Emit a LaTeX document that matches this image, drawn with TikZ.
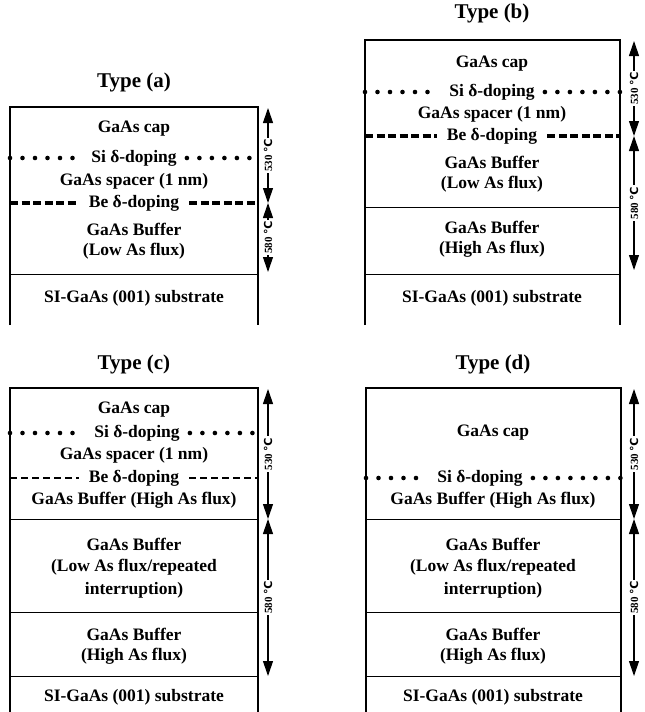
\documentclass[tikz,border=0pt]{standalone}
\usepackage{fontspec}
\setmainfont{Liberation Serif}
\newfontfamily\symf{DejaVu Sans}
\usetikzlibrary{arrows.meta}
\newcommand{\degC}{{\symf ℃}}
\begin{document}
\begin{tikzpicture}[x=1pt,y=-1pt,
  layer/.style={font=\fontsize{17.5}{20}\selectfont\bfseries, inner sep=1pt},
  dop/.style={layer, inner xsep=10pt},
  ttl/.style={font=\fontsize{21}{24}\selectfont\bfseries},
  boxline/.style={line width=1.1pt},
  divline/.style={line width=0.9pt},
  dotline/.style={line width=4.6pt, line cap=round, dash pattern=on 0pt off 12.5pt},
  dashline/.style={line width=3.2pt, dash pattern=on 8pt off 3.5pt},
  thindash/.style={line width=2pt, dash pattern=on 7pt off 4pt},
  dimarrow/.style={line width=1.1pt, {Triangle[width=10pt,length=15pt]}-{Triangle[width=10pt,length=15pt]}},
  temp/.style={font=\fontsize{11}{13}\selectfont\bfseries, rotate=90, fill=white, inner sep=1.5pt}
]
\useasboundingbox (0,0) rectangle (645,712);

% ---------- Type (a) ----------
\coordinate (aTL) at (10,107);  \coordinate (aTR) at (258,107);
\coordinate (aBL) at (10,325);  \coordinate (aBR) at (258,325);
\node[ttl] (ta) at (134,82) {Type (a)};
\draw[boxline] (aBL) -- (aTL) -- (aTR) -- (aBR);
\node[layer] (acap) at (134,129) {GaAs cap};
\node[dop] (asi) at (134,158) {Si δ-doping};
\node[layer] (aspc) at (134,181) {GaAs spacer (1 nm)};
\node[dop] (abe) at (134,203) {Be δ-doping};
\node[layer] (abuf) at (134,229) {GaAs Buffer};
\node[layer] (alow) at (134,251) {(Low As flux)};
\node[layer] (asub) at (134,298) {SI-GaAs (001) substrate};
\coordinate (asiL) at (10,158); \coordinate (asiR) at (258,158);
\coordinate (abeL) at (10,203); \coordinate (abeR) at (258,203);
\draw[dotline] (asiL) -- (asi.west);
\draw[dotline] (asi.east) -- (asiR);
\draw[dashline] (abeL) -- (abe.west);
\draw[dashline] (abe.east) -- (abeR);
\coordinate (ad1L) at (10,274); \coordinate (ad1R) at (258,274);
\draw[divline] (ad1L) -- (ad1R);
\coordinate (aAT) at (268,108); \coordinate (aAM) at (268,203); \coordinate (aAB) at (268,272);
\draw[dimarrow] (aAT) -- node[temp] {530 \degC} (aAM);
\draw[dimarrow] (aAM) -- node[temp] {580 \degC} (aAB);

% ---------- Type (b) ----------
\coordinate (bTL) at (365,40);  \coordinate (bTR) at (620,40);
\coordinate (bBL) at (365,325); \coordinate (bBR) at (620,325);
\node[ttl] (tb) at (492,13) {Type (b)};
\draw[boxline] (bBL) -- (bTL) -- (bTR) -- (bBR);
\node[layer] (bcap) at (492,64) {GaAs cap};
\node[dop] (bsi) at (492,92) {Si δ-doping};
\node[layer] (bspc) at (492,114) {GaAs spacer (1 nm)};
\node[dop] (bbe) at (492,136) {Be δ-doping};
\node[layer] (bbuf) at (492,162) {GaAs Buffer};
\node[layer] (blow) at (492,184) {(Low As flux)};
\node[layer] (bbuf2) at (492,227) {GaAs Buffer};
\node[layer] (bhigh) at (492,249) {(High As flux)};
\node[layer] (bsub) at (492,298) {SI-GaAs (001) substrate};
\coordinate (bsiL) at (365,92); \coordinate (bsiR) at (620,92);
\coordinate (bbeL) at (365,136); \coordinate (bbeR) at (620,136);
\draw[dotline] (bsiL) -- (bsi.west);
\draw[dotline] (bsi.east) -- (bsiR);
\draw[dashline] (bbeL) -- (bbe.west);
\draw[dashline] (bbe.east) -- (bbeR);
\coordinate (bd1L) at (365,207); \coordinate (bd1R) at (620,207);
\coordinate (bd2L) at (365,274); \coordinate (bd2R) at (620,274);
\draw[divline] (bd1L) -- (bd1R);
\draw[divline] (bd2L) -- (bd2R);
\coordinate (bAT) at (634,41); \coordinate (bAM) at (634,136); \coordinate (bAB) at (634,270);
\draw[dimarrow] (bAT) -- node[temp] {530 \degC} (bAM);
\draw[dimarrow] (bAM) -- node[temp] {580 \degC} (bAB);

% ---------- Type (c) ----------
\coordinate (cTL) at (10,388);  \coordinate (cTR) at (258,388);
\coordinate (cBL) at (10,712);  \coordinate (cBR) at (258,712);
\node[ttl] (tc) at (134,364) {Type (c)};
\draw[boxline] (cBL) -- (cTL) -- (cTR) -- (cBR);
\node[layer] (ccap) at (134,410) {GaAs cap};
\node[dop] (csi) at (137,433) {Si δ-doping};
\node[layer] (cspc) at (134,455) {GaAs spacer (1 nm)};
\node[dop] (cbe) at (134,478) {Be δ-doping};
\node[layer] (cbh) at (134,500) {GaAs Buffer (High As flux)};
\node[layer] (cbuf) at (134,544) {GaAs Buffer};
\node[layer] (clow) at (134,567) {(Low As flux/repeated};
\node[layer] (cint) at (134,590) {interruption)};
\node[layer] (cbuf2) at (134,634) {GaAs Buffer};
\node[layer] (chigh) at (134,656) {(High As flux)};
\node[layer] (csub) at (134,697) {SI-GaAs (001) substrate};
\coordinate (csiL) at (10,433); \coordinate (csiR) at (258,433);
\coordinate (cbeL) at (10,478); \coordinate (cbeR) at (258,478);
\draw[dotline] (csiL) -- (csi.west);
\draw[dotline] (csi.east) -- (csiR);
\draw[thindash] (cbeL) -- (cbe.west);
\draw[thindash] (cbe.east) -- (cbeR);
\coordinate (cd1L) at (10,519); \coordinate (cd1R) at (258,519);
\coordinate (cd2L) at (10,612); \coordinate (cd2R) at (258,612);
\coordinate (cd3L) at (10,676); \coordinate (cd3R) at (258,676);
\draw[divline] (cd1L) -- (cd1R);
\draw[divline] (cd2L) -- (cd2R);
\draw[divline] (cd3L) -- (cd3R);
\coordinate (cAT) at (268,389); \coordinate (cAM) at (268,519); \coordinate (cAB) at (268,676);
\draw[dimarrow] (cAT) -- node[temp] {530 \degC} (cAM);
\draw[dimarrow] (cAM) -- node[temp] {580 \degC} (cAB);

% ---------- Type (d) ----------
\coordinate (dTL) at (366,388);  \coordinate (dTR) at (621,388);
\coordinate (dBL) at (366,712);  \coordinate (dBR) at (621,712);
\node[ttl] (td) at (493,364) {Type (d)};
\draw[boxline] (dBL) -- (dTL) -- (dTR) -- (dBR);
\node[layer] (dcap) at (493,433) {GaAs cap};
\node[dop] (dsi) at (480,478) {Si δ-doping};
\node[layer] (dbh) at (493,500) {GaAs Buffer (High As flux)};
\node[layer] (dbuf) at (493,544) {GaAs Buffer};
\node[layer] (dlow) at (493,567) {(Low As flux/repeated};
\node[layer] (dint) at (493,590) {interruption)};
\node[layer] (dbuf2) at (493,634) {GaAs Buffer};
\node[layer] (dhigh) at (493,656) {(High As flux)};
\node[layer] (dsub) at (493,697) {SI-GaAs (001) substrate};
\coordinate (dsiL) at (366,478); \coordinate (dsiR) at (621,478);
\draw[dotline] (dsiL) -- (dsi.west);
\draw[dotline] (dsi.east) -- (dsiR);
\coordinate (dd1L) at (366,519); \coordinate (dd1R) at (621,519);
\coordinate (dd2L) at (366,612); \coordinate (dd2R) at (621,612);
\coordinate (dd3L) at (366,676); \coordinate (dd3R) at (621,676);
\draw[divline] (dd1L) -- (dd1R);
\draw[divline] (dd2L) -- (dd2R);
\draw[divline] (dd3L) -- (dd3R);
\coordinate (dAT) at (634,389); \coordinate (dAM) at (634,519); \coordinate (dAB) at (634,676);
\draw[dimarrow] (dAT) -- node[temp] {530 \degC} (dAM);
\draw[dimarrow] (dAM) -- node[temp] {580 \degC} (dAB);
\end{tikzpicture}
\end{document}
